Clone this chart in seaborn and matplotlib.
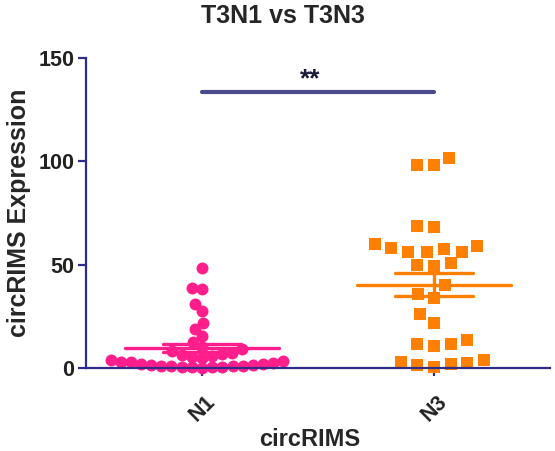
"""Column scatter of circRIMS expression for T3N1 vs T3N3."""

import matplotlib

matplotlib.use("Agg")
import matplotlib.pyplot as plt
import pandas as pd
import seaborn as sns

# values
groups = ["N1", "N3"]
n1_values = [48.4, 38.5, 38.2, 31.0, 27.6, 21.9, 18.9, 15.5, 12.5, 10.0, 9.0, 8.0,
             7.5, 7.0, 6.5, 6.0, 5.5, 5.0, 4.0, 3.5, 3.0, 3.0, 2.5, 2.0, 2.0, 1.5,
             1.5, 1.2, 1.0, 1.0, 0.8, 0.6, 0.5, 0.4, 0.3, 0.2]
n3_values = [98.2, 98.2, 101.9, 68.4, 68.9, 57.7, 56.4, 60.2, 59.2, 58.2, 56.0,
             56.4, 50.6, 49.3, 49.7, 40.0, 35.6, 34.0, 26.0, 21.9, 13.5, 11.5,
             10.6, 11.8, 3.0, 1.8, 0.6, 1.6, 2.6, 4.0]
y_ticks = [0, 50, 100, 150]
title = "T3N1 vs T3N3"
x_label = "circRIMS"
y_label = "circRIMS Expression"
sig_label = "**"
sig_level = 133.5

pink = "#FF1E8C"
orange = "#FF8000"
navy = "#2E2E8A"
sig_color = "#4B4B8C"
colors = [pink, orange]
markers = ["o", "s"]
marker_size = 8.6
# GraphPad spaces its columns on its own grid, so the swarm is laid out with
# a different footprint than the one that gets drawn
layout_sizes = [7.0, 11.5]

df = pd.DataFrame({
    "group": ["N1"] * len(n1_values) + ["N3"] * len(n3_values),
    "value": n1_values + n3_values,
})

sns.set_style("white")
plt.rcParams["font.family"] = ["Liberation Sans", "DejaVu Sans"]

fig = plt.figure(figsize=(5.55, 4.51), dpi=100)
ax = fig.add_axes([0.155, 0.184, 0.836, 0.687])

swarms = []
for grp, color, marker, lsize in zip(groups, colors, markers, layout_sizes):
    before = list(ax.collections)
    sub = df[df["group"] == grp]
    sns.swarmplot(data=sub, x="group", y="value", order=groups, color=color,
                  marker=marker, size=lsize, linewidth=0, ax=ax, clip_on=False,
                  zorder=2)
    swarms += [c for c in ax.collections if c not in before]

ax.set_xlim(-0.5, 1.5)
ax.set_ylim(0, 150)

# run the swarm layout once, then freeze it and draw the markers full size
fig.canvas.draw()
for coll in swarms:
    if "draw" in coll.__dict__:
        del coll.draw
    if len(coll.get_offsets()):
        coll.set_sizes([marker_size ** 2])

# mean with SEM
stats = df.groupby("group")["value"].agg(["mean", "sem"]).reindex(groups)
for i, (grp, color) in enumerate(zip(groups, colors)):
    m, s = stats.loc[grp, "mean"], stats.loc[grp, "sem"]
    ax.hlines(m, i - 0.33, i + 0.33, color=color, lw=2.4, capstyle="round", zorder=4)
    ax.hlines([m - s, m + s], i - 0.17, i + 0.17, color=color, lw=2.4,
              capstyle="round", zorder=4)
    ax.vlines(i, m - s, m + s, color=color, lw=2.4, zorder=4)

# significance bar
ax.plot([0, 1], [sig_level, sig_level], color=sig_color, lw=3,
        solid_capstyle="round", zorder=3)
ax.text(0.465, sig_level + 6.2, sig_label, ha="center", va="center",
        fontsize=19, fontweight="bold", color="#1A1A3A")

ax.set_xlim(-0.5, 1.5)
ax.set_ylim(0, 150)
ax.set_yticks(y_ticks)
sns.despine(ax=ax)
for side in ["left", "bottom"]:
    ax.spines[side].set_color(navy)
    ax.spines[side].set_linewidth(1.6)
ax.tick_params(axis="both", direction="out", length=6, width=1.6, color=navy,
               labelsize=15.5, labelcolor="#222222", left=True, bottom=True)
ax.tick_params(axis="x", pad=11)
ax.tick_params(axis="y", pad=2.5)
for lab in ax.get_xticklabels() + ax.get_yticklabels():
    lab.set_fontweight("bold")
plt.setp(ax.get_xticklabels(), rotation=45, ha="center")

ax.set_title(title, x=0.425, fontsize=18, fontweight="bold", pad=25)
ax.set_xlabel(x_label, fontsize=17, fontweight="bold")
ax.xaxis.set_label_coords(0.483, -0.195)
ax.set_ylabel(y_label, fontsize=18, fontweight="bold", labelpad=5.5)

fig.savefig("out.png", dpi=100)
